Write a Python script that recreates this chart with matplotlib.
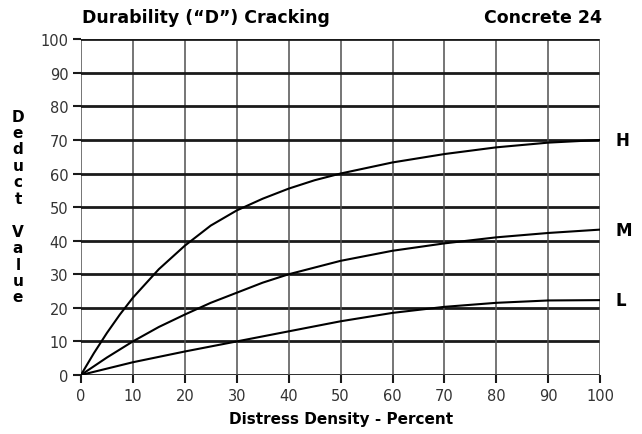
import matplotlib.pyplot as plt

# curve readings (distress density %, deduct value)
h_x = [0, 2.5, 5, 7.5, 10, 15, 20, 25, 30, 35, 40, 45, 50, 60, 70, 80, 90, 100]
h_y = [0, 6.5, 12.5, 18, 23, 31.5, 38.5, 44.5, 49, 52.5, 55.5, 58, 60, 63.3, 65.8, 67.8, 69.2, 70]
m_x = [0, 5, 10, 15, 20, 25, 30, 35, 40, 50, 60, 70, 80, 90, 100]
m_y = [0, 5.2, 10, 14.3, 18, 21.5, 24.5, 27.5, 30, 34, 37, 39.2, 41, 42.3, 43.3]
l_x = [0, 10, 20, 30, 40, 50, 60, 70, 80, 90, 100]
l_y = [0, 3.8, 7, 10, 13, 16, 18.5, 20.3, 21.5, 22.2, 22.3]
ticks = list(range(0, 101, 10))

plt.rcParams['font.family'] = ['DejaVu Sans']

fig = plt.figure(figsize=(6.42, 4.35), dpi=100)
ax = fig.add_axes([0.126, 0.1356, 0.809, 0.772])

ax.set_xlim(0, 100)
ax.set_ylim(0, 100)
ax.set_xticks(ticks)
ax.set_yticks(ticks)

# grid: thick black horizontals, thinner grey verticals
for v in ticks:
    ax.axhline(v, color='#1a1a1a', lw=2.0, zorder=1)
    ax.axvline(v, color='#505050', lw=1.1, zorder=1)

for xs, ys in [(h_x, h_y), (m_x, m_y), (l_x, l_y)]:
    ax.plot(xs, ys, color='black', lw=1.5, zorder=3)

for s in ax.spines.values():
    s.set_visible(False)

ax.tick_params(axis='both', direction='out', length=6, width=1.5, color='#1a1a1a',
               labelsize=10.5, labelcolor='#333333', pad=3)

for lab, yv in [('H', h_y[-1]), ('M', m_y[-1]), ('L', l_y[-1])]:
    ax.text(103, yv, lab, fontsize=12, fontweight='bold', ha='left', va='center',
            clip_on=False)

ax.set_xlabel('Distress Density - Percent', fontsize=11, fontweight='bold', labelpad=6)

fig.text(0.028, 0.523, 'D\ne\nd\nu\nc\nt\n\nV\na\nl\nu\ne', fontsize=11,
         fontweight='bold', ha='center', va='center', linespacing=1.12)

fig.text(0.128, 0.958, 'Durability (\u201cD\u201d) Cracking', fontsize=12.5,
         fontweight='bold', ha='left', va='center')
fig.text(0.937, 0.958, 'Concrete 24', fontsize=12.5, fontweight='bold',
         ha='right', va='center')

fig.savefig('out.png', dpi=100)
